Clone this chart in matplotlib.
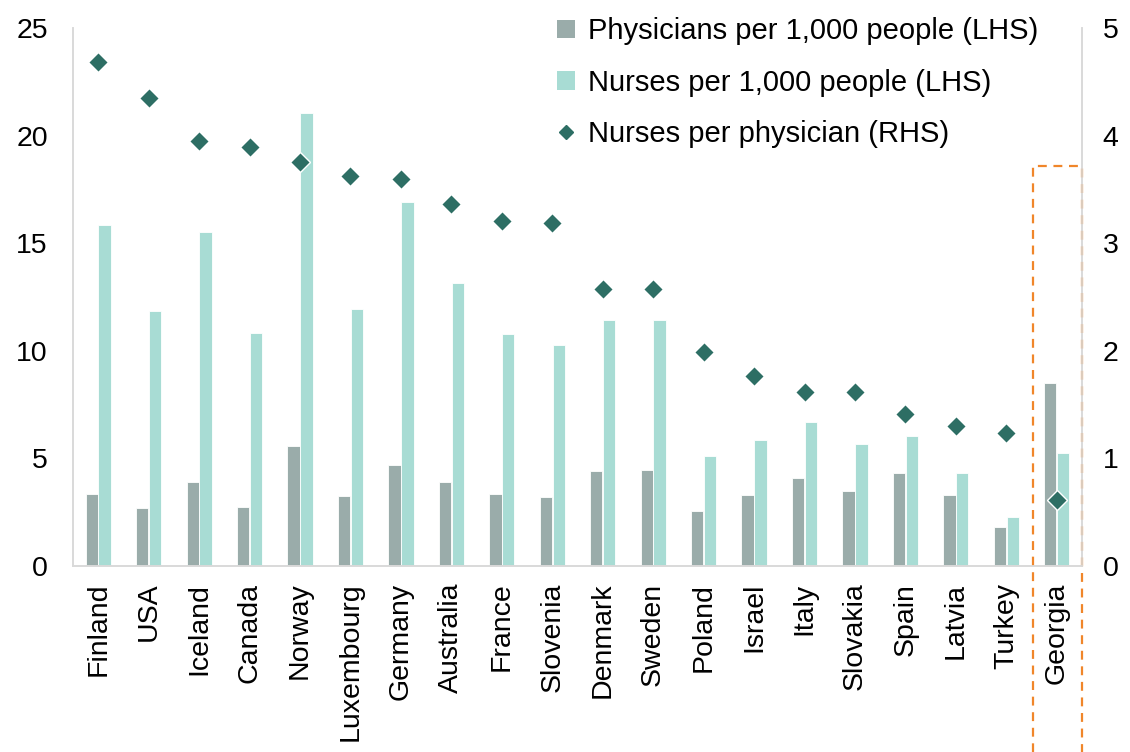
import numpy as np
import matplotlib.pyplot as plt
from matplotlib.patches import Patch, Rectangle
from matplotlib.lines import Line2D

plt.rcParams['font.family'] = ['Liberation Sans', 'DejaVu Sans']

countries = ['Finland', 'USA', 'Iceland', 'Canada', 'Norway', 'Luxembourg', 'Germany',
             'Australia', 'France', 'Slovenia', 'Denmark', 'Sweden', 'Poland', 'Israel',
             'Italy', 'Slovakia', 'Spain', 'Latvia', 'Turkey', 'Georgia']
physicians = [3.37, 2.70, 3.90, 2.75, 5.59, 3.27, 4.69, 3.91, 3.34, 3.21, 4.42, 4.45,
              2.55, 3.31, 4.11, 3.48, 4.30, 3.32, 1.83, 8.52]
nurses = [15.83, 11.87, 15.52, 10.85, 21.07, 11.96, 16.91, 13.17, 10.77, 10.27, 11.42, 11.45,
          5.11, 5.85, 6.69, 5.66, 6.05, 4.31, 2.28, 5.25]
ratio = [4.68, 4.35, 3.95, 3.89, 3.75, 3.62, 3.60, 3.36, 3.21, 3.19, 2.57, 2.57,
         1.99, 1.77, 1.62, 1.62, 1.41, 1.30, 1.24, 0.61]

phys_col = '#9AACAA'
nurse_col = '#A8DCD4'
ratio_col = '#2D6E64'
box_col = '#F0862A'
axis_col = '#D9D9D9'

fig = plt.figure(figsize=(11.3, 7.52), dpi=100)
ax = fig.add_axes([0.0646, 0.2473, 0.9575 - 0.0646, 0.9628 - 0.2473])
ax2 = ax.twinx()

x = np.arange(len(countries))
w = 0.245
ax.bar(x - w / 2 - 0.005, physicians, width=w, color=phys_col, edgecolor='white', linewidth=0.6)
ax.bar(x + w / 2 + 0.005, nurses, width=w, color=nurse_col, edgecolor='white', linewidth=0.6)
ax2.plot(x, ratio, linestyle='none', marker='D', ms=10, color=ratio_col,
         mec='white', mew=1.0, zorder=5)

ax.set_xlim(-0.5, len(countries) - 0.5)
ax.set_ylim(0, 25)
ax2.set_ylim(0, 5)
ax.set_yticks([0, 5, 10, 15, 20, 25])
ax2.set_yticks([0, 1, 2, 3, 4, 5])
ax.set_xticks(x)
ax.set_xticklabels(countries, rotation=90)

for a in (ax, ax2):
    a.spines['top'].set_visible(False)
    for s in ('left', 'right', 'bottom'):
        a.spines[s].set_color(axis_col)
        a.spines[s].set_linewidth(1.2)
ax.tick_params(axis='both', length=0, labelsize=20.5)
ax.tick_params(axis='y', pad=18)
ax.tick_params(axis='x', pad=12)
ax2.tick_params(axis='y', length=0, labelsize=20.5, pad=15)

# dashed box highlighting Georgia
ax.add_patch(Rectangle((18.52, -15), 0.98, 15 + 18.6, fill=False, edgecolor=box_col,
                       linestyle=(0, (4, 3)), linewidth=1.6, clip_on=False, zorder=6))

handles = [Patch(facecolor=phys_col, edgecolor='none'),
           Patch(facecolor=nurse_col, edgecolor='none'),
           Line2D([], [], linestyle='none', marker='D', ms=7, color=ratio_col)]
labels = ['Physicians per 1,000 people (LHS)', 'Nurses per 1,000 people (LHS)',
          'Nurses per physician (RHS)']
fig.legend(handles, labels, loc='upper left', bbox_to_anchor=(0.4725, 1.008), frameon=False,
           fontsize=21, handlelength=0.6, handleheight=0.6, handletextpad=0.45,
           labelspacing=0.8, borderpad=0.3)

fig.savefig('out.png', dpi=100)
